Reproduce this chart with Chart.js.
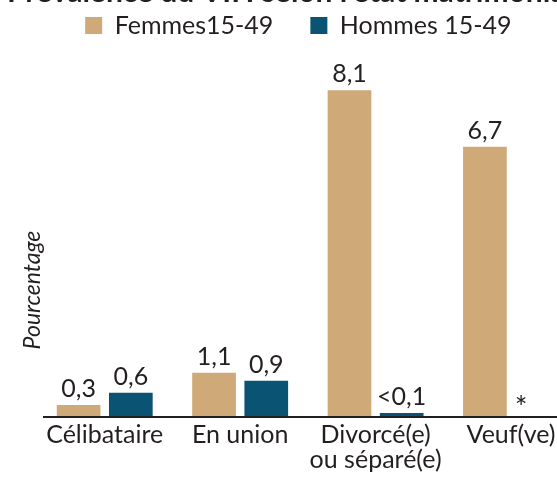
<!DOCTYPE html>
<html>
<head>
<meta charset="utf-8">
<script src="https://cdn.jsdelivr.net/npm/chart.js@4"></script>
<style>
html,body{margin:0;padding:0;background:#fff;overflow:hidden;width:557px;height:477px;}
#wrap{position:absolute;left:0;top:-24px;width:600px;height:501px;}
</style>
</head>
<body>
<div id="wrap"><canvas id="c" width="600" height="501"></canvas></div>
<script>
const categories = ['Célibataire', 'En union', ['Divorcé(e)', 'ou séparé(e)'], 'Veuf(ve)'];
const seriesNames = ['Femmes15-49', 'Hommes 15-49'];
const femmes = [0.3, 1.1, 8.1, 6.7];
const hommes = [0.6, 0.9, 0.1, null];
const femmesLabels = ['0,3', '1,1', '8,1', '6,7'];
const hommesLabels = ['0,6', '0,9', '<0,1', '*'];
const chartTitle = "Prévalence du VIH selon l'état matrimonial";
const yTitle = 'Pourcentage';

const TXT = '#231f20';
const FONT = 'Lato, "Noto Sans", sans-serif';
const valueLabels = [femmesLabels, hommesLabels];

const extras = {
  id: 'extras',
  afterDatasetsDraw(chart) {
    const ctx = chart.ctx;
    const area = chart.chartArea;
    const y0 = chart.scales.y.getPixelForValue(0);
    ctx.save();
    // baseline
    ctx.strokeStyle = TXT;
    ctx.lineWidth = 2.2;
    ctx.beginPath();
    ctx.moveTo(area.left + 6, y0);
    ctx.lineTo(chart.width, y0);
    ctx.stroke();
    // value labels
    ctx.fillStyle = TXT;
    ctx.textAlign = 'center';
    ctx.textBaseline = 'alphabetic';
    chart.data.datasets.forEach((ds, di) => {
      const meta = chart.getDatasetMeta(di);
      meta.data.forEach((bar, i) => {
        const v = ds.data[i];
        const txt = valueLabels[di][i];
        if (v === null || v === undefined) {
          ctx.font = '30px ' + FONT;
          ctx.fillText(txt, bar.x - 16, y0 + 1);
        } else {
          ctx.font = '25px ' + FONT;
          ctx.fillText(txt, bar.x, bar.y - 8);
        }
      });
    });
    // y axis title
    ctx.save();
    ctx.translate(area.left - 4.5, area.bottom - 127);
    ctx.rotate(-Math.PI / 2);
    ctx.font = 'italic 23px ' + FONT;
    ctx.textAlign = 'center';
    ctx.textBaseline = 'middle';
    ctx.fillText(yTitle, 0, 0);
    ctx.restore();
    // chart title (cropped at top)
    ctx.font = 'bold 30px ' + FONT;
    ctx.textAlign = 'left';
    ctx.textBaseline = 'alphabetic';
    ctx.fillText(chartTitle, 7, 26);
    ctx.restore();
  }
};

new Chart(document.getElementById('c'), {
  type: 'bar',
  data: {
    labels: categories,
    datasets: [
      { label: seriesNames[0], data: femmes, backgroundColor: '#cfa977', categoryPercentage: 0.771, barPercentage: 0.837 },
      { label: seriesNames[1], data: hommes, backgroundColor: '#0b5372', categoryPercentage: 0.771, barPercentage: 0.837 }
    ]
  },
  options: {
    responsive: false,
    animation: false,
    devicePixelRatio: 1,
    layout: { padding: { left: 18, right: 21.25, top: 0, bottom: 0 } },
    plugins: {
      legend: {
        position: 'top',
        labels: { boxWidth: 17, boxHeight: 17, padding: 37, color: TXT, font: { family: FONT, size: 25 } }
      },
      tooltip: { enabled: false },
      title: { display: false }
    },
    scales: {
      x: {
        grid: { display: false, drawTicks: false },
        border: { display: false },
        ticks: { color: TXT, font: { family: FONT, size: 25, lineHeight: 1.0 }, padding: 5, maxRotation: 0, autoSkip: false }
      },
      y: {
        min: 0, max: 9.15,
        grid: { display: false, drawTicks: false },
        border: { display: false },
        ticks: { display: false },
        afterFit: (s) => { s.width = 19; }
      }
    }
  },
  plugins: [extras]
});
</script>
</body>
</html>
